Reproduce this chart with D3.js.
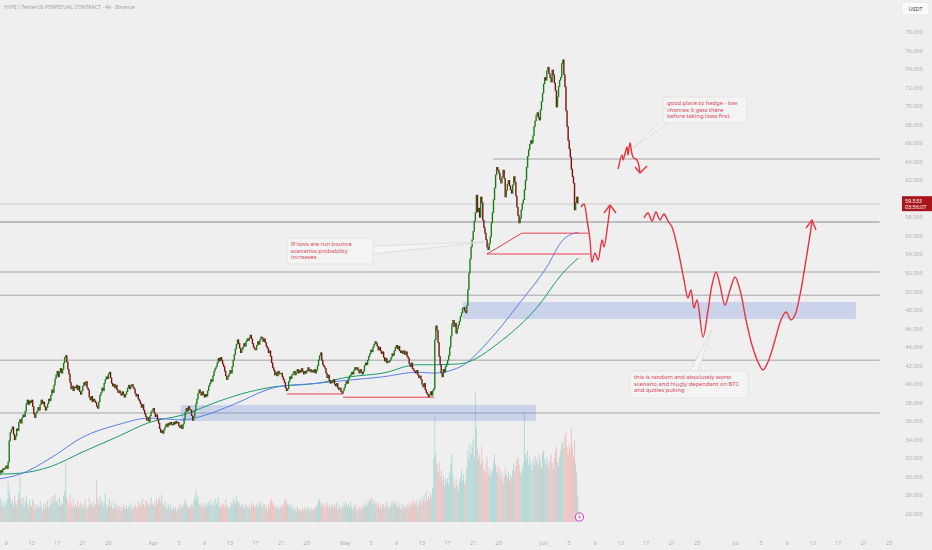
<!DOCTYPE html>
<html>
<head>
<meta charset="utf-8">
<script src="https://cdn.jsdelivr.net/npm/d3@7"></script>
<style>
  body { margin: 0; background: #efefef; }
  svg { display: block; font-family: "Noto Sans", "Open Sans", sans-serif; }
</style>
</head>
<body>
<div id="chart"></div>
<script>
// 4h closes, six per day, starting 8 Mar
const firstOpen = 30.2;
const closesMar = [
  30.4, 30.7, 30.5, 30.9, 30.8, 31.0,
  31.2, 30.9, 31.6, 33.9, 34.8, 35.1,
  35.4, 34.6, 34.0, 34.4, 35.2, 35.0,
  35.9, 36.2, 35.8, 36.4, 36.7, 36.5,
  37.1, 37.9, 38.3, 37.8, 38.2, 38.0,
  38.3, 37.6, 36.8, 36.4, 36.9, 37.1,
  37.5, 37.2, 37.8, 38.3, 37.9, 38.1,
  37.6, 37.2, 37.5, 37.9, 38.4, 38.2,
  38.8, 39.4, 39.1, 39.9, 40.6, 41.0,
  41.4, 40.8, 41.3, 41.7, 41.2, 41.6,
  42.3, 42.9, 43.1, 42.4, 41.6, 41.1,
  40.2, 39.5, 39.8, 39.3, 39.7, 39.6,
  39.9, 39.4, 39.8, 39.2, 38.9, 39.3,
  39.8, 40.2, 39.9, 40.3, 39.6, 39.4,
  38.6, 38.3, 38.7, 38.1, 38.4, 38.2,
  38.0, 37.6, 37.4, 38.1, 38.8, 39.1,
  39.6, 39.3, 40.1, 40.5, 40.8, 40.6,
  41.1, 41.3, 40.7, 40.1, 39.8, 40.0,
  39.6, 39.9, 39.4, 39.1, 39.3, 39.0,
  38.8, 39.2, 38.9, 38.6, 38.9, 39.2,
  39.6, 39.9, 39.5, 39.8, 40.0, 39.7,
  39.5, 39.0, 38.7, 38.9, 38.4, 38.2,
  37.9, 37.5, 37.8, 37.2, 36.8, 36.5,
  36.1, 36.4, 36.0, 36.6, 37.0, 37.2
];
const closesApr = [
  37.4, 36.9, 36.5, 36.7, 36.2, 35.8,
  35.2, 34.8, 35.0, 34.7, 35.1, 35.4,
  35.7, 35.4, 35.8, 35.6, 35.9, 35.7,
  35.6, 35.9, 35.7, 36.0, 35.8, 35.9,
  35.5, 35.3, 35.6, 35.2, 35.7, 36.3,
  37.0, 37.4, 37.1, 37.6, 37.3, 37.2,
  36.6, 36.1, 36.5, 37.2, 37.9, 38.4,
  39.0, 39.4, 39.1, 38.8, 39.2, 38.9,
  38.6, 38.9, 38.7, 39.3, 39.8, 40.1,
  40.5, 40.3, 40.9, 41.4, 41.7, 41.9,
  42.3, 42.8, 42.5, 42.9, 42.6, 42.2,
  41.9, 41.4, 40.9, 40.5, 40.8, 41.1,
  41.5, 41.2, 41.9, 42.6, 43.2, 43.8,
  44.3, 44.8, 44.4, 43.9, 43.4, 43.7,
  44.0, 44.4, 44.1, 44.6, 44.9, 44.7,
  45.0, 45.3, 44.9, 44.4, 44.0, 43.8,
  43.7, 44.2, 44.6, 44.3, 44.8, 45.1,
  45.0, 44.6, 44.9, 44.5, 44.1, 43.9,
  43.4, 43.6, 43.0, 42.3, 41.8, 41.5,
  41.0, 41.3, 40.9, 41.4, 41.1, 41.2,
  41.2, 40.8, 40.5, 40.2, 39.6, 39.3,
  39.5, 40.3, 40.8, 40.6, 41.0, 41.2,
  41.4, 41.0, 41.3, 41.6, 41.2, 41.5,
  41.3, 41.7, 41.4, 41.1, 41.4, 41.2,
  41.5, 41.8, 41.4, 41.6, 41.3, 41.5,
  41.3, 41.6, 41.2, 41.5, 42.0, 42.6,
  43.1, 43.4, 42.6, 42.1, 41.9, 41.7,
  41.2, 40.7, 41.0, 40.4, 40.1, 40.3,
  40.2, 40.5, 40.0, 39.8, 40.1, 39.6,
  39.4, 39.6, 39.2, 39.0, 39.3, 39.6
];
const closesMay = [
  40.0, 40.3, 40.1, 40.6, 40.9, 41.0,
  41.3, 41.1, 41.5, 41.8, 41.6, 41.8,
  41.5, 41.2, 41.6, 41.3, 41.1, 41.4,
  42.0, 42.3, 42.1, 42.6, 43.0, 43.3,
  43.7, 43.5, 44.0, 44.3, 44.6, 44.4,
  44.1, 43.7, 44.0, 43.6, 43.3, 43.5,
  42.9, 42.5, 42.8, 42.3, 42.5, 42.4,
  42.6, 42.9, 43.3, 43.1, 43.6, 44.0,
  44.2, 43.8, 44.1, 43.6, 43.4, 43.6,
  43.3, 43.6, 43.2, 43.5, 43.0, 42.8,
  42.2, 41.9, 42.3, 41.7, 41.5, 41.4,
  41.2, 41.5, 41.0, 40.7, 40.9, 40.5,
  40.0, 39.7, 40.1, 39.4, 39.1, 38.9,
  38.6, 38.9, 39.2, 38.8, 39.3, 39.5,
  44.8, 46.3, 45.8, 44.5, 43.0, 42.1,
  41.2, 40.8, 41.6, 41.3, 41.9, 42.2,
  42.6, 43.1, 44.0, 45.2, 46.5, 46.9,
  46.2, 46.6, 45.5, 46.0, 46.4, 46.8,
  47.3, 47.7, 48.2, 48.3, 47.9, 47.7,
  48.5, 50.2, 52.0, 53.5, 54.8, 55.6,
  56.5, 57.6, 58.5, 60.4, 58.6, 59.0,
  58.0, 60.2, 59.6, 57.7, 56.9, 56.3,
  55.6, 54.8, 54.5, 55.2, 55.9, 57.4,
  58.5, 59.9, 61.2, 62.6, 63.4, 63.1,
  62.8, 62.1, 61.7, 62.4, 63.1, 62.2,
  60.2, 60.9, 61.6, 62.0, 61.4, 61.0,
  60.6, 61.5, 62.4, 61.8, 60.3, 59.1,
  58.2, 57.4, 57.9, 58.8, 59.5, 59.9,
  61.0, 62.0, 63.4, 64.6, 65.3, 65.9,
  66.3, 66.0, 66.8, 67.8, 68.4, 69.0,
  69.3, 68.8, 68.5, 69.6, 70.5, 71.4
];
const closesJun = [
  72.4, 73.1, 72.8, 73.8, 74.2, 73.5,
  73.1, 72.6, 73.9, 73.4, 72.5, 71.7,
  69.9, 71.0, 72.1, 72.8, 73.1, 74.6,
  75.0, 73.4, 72.1, 69.5, 67.8, 66.3,
  65.4, 64.5, 63.2, 62.4, 61.7, 58.8,
  59.6, 60.2, 59.533
];

// volume per 4h bar (relative units), same grouping
const volMar = [
  14, 18, 12, 16, 11, 15,  13, 17, 31, 24, 19, 14,  16, 12, 20, 15, 13, 17,
  22, 35, 18, 14, 19, 12,  16, 21, 14, 11, 17, 13,  12, 18, 15, 10, 14, 11,
  13, 11, 16, 12, 9, 14,   10, 15, 12, 17, 11, 13,  18, 14, 20, 16, 22, 15,
  17, 13, 19, 12, 15, 14,  20, 24, 46, 19, 16, 13,  21, 15, 12, 18, 11, 14,
  12, 16, 10, 13, 15, 11,  14, 11, 17, 13, 10, 12,  19, 13, 15, 11, 16, 12,
  14, 32, 18, 13, 20, 15,  17, 12, 15, 22, 14, 11,  13, 18, 12, 15, 10, 16,
  11, 14, 10, 13, 12, 9,   12, 9, 14, 11, 10, 13,   10, 13, 11, 15, 9, 12,
  11, 14, 12, 10, 16, 13,  15, 12, 18, 14, 11, 16,  17, 13, 15, 12, 19, 14
];
const volApr = [
  13, 16, 12, 18, 14, 17,  19, 15, 21, 14, 12, 16,  12, 10, 14, 11, 13, 9,
  10, 12, 9, 11, 8, 10,    11, 14, 10, 13, 12, 15,  18, 14, 11, 13, 10, 12,
  14, 12, 16, 19, 25, 17,  20, 14, 12, 15, 11, 13,  12, 15, 11, 14, 16, 13,
  17, 13, 15, 12, 18, 14,  15, 19, 13, 11, 14, 12,  14, 11, 17, 13, 12, 10,
  12, 15, 13, 18, 16, 14,  20, 16, 13, 15, 12, 14,  11, 13, 10, 14, 12, 11,
  13, 10, 15, 12, 14, 11,  12, 14, 11, 16, 13, 15,  10, 12, 14, 11, 13, 9,
  14, 11, 16, 18, 15, 13,  12, 10, 13, 11, 9, 12,   11, 14, 12, 16, 18, 13,
  15, 12, 14, 10, 13, 11,  9, 11, 8, 12, 10, 9,     10, 8, 11, 9, 12, 10,
  9, 12, 10, 8, 11, 9,     10, 9, 12, 11, 14, 16,   18, 13, 15, 12, 14, 11,
  12, 15, 11, 13, 10, 14,  13, 11, 14, 12, 15, 10,  14, 12, 10, 13, 11, 15
];
const volMay = [
  13, 15, 12, 14, 11, 16,  12, 10, 13, 11, 14, 9,   10, 12, 9, 11, 13, 10,
  14, 12, 16, 13, 15, 18,  16, 19, 14, 17, 13, 15,  12, 15, 11, 14, 10, 13,
  14, 11, 13, 16, 12, 10,  12, 15, 13, 17, 14, 16,  13, 11, 15, 12, 10, 14,
  11, 13, 10, 12, 14, 11,  15, 12, 14, 17, 13, 16,  14, 17, 12, 15, 18, 13,
  19, 16, 21, 15, 24, 18,  20, 17, 22, 19, 26, 49,  81, 52, 44, 38, 46, 35,
  40, 32, 36, 28, 33, 30,  34, 29, 38, 45, 52, 36,  30, 26, 33, 28, 24, 31,
  35, 40, 32, 37, 29, 33,  42, 55, 48, 60, 52, 58,  64, 50, 100, 72, 56, 48,
  52, 44, 58, 47, 41, 38,  45, 50, 37, 42, 35, 39,  40, 46, 52, 44, 38, 43,
  36, 41, 33, 38, 30, 35,  42, 37, 34, 39, 31, 36,  34, 40, 45, 38, 43, 48,
  50, 44, 39, 36, 41, 46,  85, 52, 48, 55, 44, 50,  45, 40, 48, 43, 51, 46,
  49, 44, 52, 47, 41, 53
];
const volJun = [
  55, 48, 44, 50, 46, 42,  47, 52, 45, 41, 49, 54,  58, 46, 43, 50, 55, 60,
  62, 57, 66, 70, 58, 52,  60, 55, 72, 58, 50, 63,  45, 38, 20
];

// moving averages: [days since 8 Mar, price]
const maBlue = [
  [0, 29.8], [3.2, 30.3], [7.9, 32.0], [13, 34.3], [18.3, 35.6], [23.5, 36.35],
  [28.7, 36.15], [31.3, 36.5], [36.5, 37.8], [41.8, 39.4], [43.3, 39.7],
  [49.6, 40.1], [54.75, 40.45], [59.9, 40.8], [65.2, 41.3], [67.7, 41.2],
  [71.9, 41.85], [76.6, 44.8], [81.3, 48.8], [85.5, 52.65], [88, 55.55], [90.4, 56.4]
];
const maGreen = [
  [0, 30.3], [3.2, 30.4], [7.9, 31.1], [13, 32.7], [18.3, 34.3], [23.5, 35.9],
  [28.7, 36.7], [34, 38.1], [39.1, 39.2], [42.7, 39.7], [49.6, 40.1],
  [54.75, 40.8], [59.9, 41.2], [65.2, 42.1], [67.7, 42.1], [71.9, 42.2],
  [78.6, 44.8], [84, 48.3], [88, 52.0], [90.4, 53.6]
];

// drawn horizontal levels: price, start day
const levelPrices = [64.3, 59.44, 57.5, 52.1, 49.6, 42.6, 36.9];
const levelStarts = [77.1, 0, 0, 0, 0, 0, 0];
const levelEnd = 137.5;

// zones: [startDay, endDay, top price, bottom price]
const zones = [[72.4, 133.8, 48.87, 47.04], [28.3, 83.8, 37.76, 36.03]];

// red support lines and trap box: [day, price] pairs
const lowLines = [
  [[44.9, 38.95], [53.66, 38.95]],
  [[53.66, 38.6], [67.88, 38.6]],
  [[81.6, 56.3], [91.94, 56.3]],
  [[76.16, 54.05], [92.25, 54.05]],
  [[76.16, 54.05], [81.6, 56.3]]
];

// projected paths
const pathBounce = [
  [90.84, 59.12], [91.31, 59.44], [91.78, 57.72], [92.25, 55.56], [92.56, 53.19],
  [93.03, 54.16], [93.5, 53.4], [94.13, 55.56], [94.44, 54.8], [94.91, 56.64], [95.38, 59.23]
];
const headBounce = [[94.44, 58.47], [95.38, 59.34], [96.31, 58.47]];
const pathHedge = [
  [96.63, 63.22], [97.25, 64.73], [97.41, 64.19], [98.03, 65.59], [98.19, 64.73],
  [98.5, 66.02], [98.97, 64.51], [99.59, 64.19], [100.06, 62.9]
];
const headHedge = [[99.28, 63.43], [100.06, 62.79], [101.16, 63.54]];
const pathWorst = [
  [100.69, 57.93], [101.31, 58.47], [101.94, 57.61], [102.56, 58.58], [103.19, 57.72],
  [103.81, 58.36], [104.44, 57.61], [105.06, 56.96], [106.0, 54.48], [106.94, 51.24],
  [107.56, 49.3], [108.03, 50.17], [108.5, 48.22], [108.97, 49.09], [109.91, 45.1],
  [110.69, 48.0], [111.31, 50.7], [111.94, 52.1], [112.56, 50.7], [113.34, 48.55],
  [114.13, 50.17], [114.91, 51.57], [115.69, 50.17], [116.63, 46.93], [117.56, 44.23],
  [118.5, 42.4], [119.28, 41.54], [120.06, 42.4], [121.16, 44.77], [122.09, 46.93],
  [122.88, 47.79], [123.66, 46.93], [124.28, 47.47], [125.06, 49.63], [126.0, 53.4],
  [126.94, 57.5]
];
const headWorst = [[126.0, 56.85], [126.94, 57.72], [127.56, 56.64]];

// text notes: box top-left anchor [day, price] and the point they refer to
const noteTexts = [
  ["good place to hedge - low", "chances it gets there", "before taking lows first"],
  ["If lows are run bounce", "scenarios probability", "increases"],
  ["this is random and absolutely worst", "scenario and hiugly dependant on BTC", "and quities puking"]
];
const noteAnchors = [[103.66, 70.99], [44.91, 55.78], [98.5, 41.43]];
const noteTips = [[98.97, 65.48], [75.69, 55.34], [111.31, 45.85]];

const xTickDates = [
  "03-09", "03-13", "03-17", "03-21", "03-25",
  "04-01", "04-05", "04-09", "04-13", "04-17", "04-21", "04-25",
  "05-01", "05-05", "05-09", "05-13", "05-17", "05-21", "05-25",
  "06-01", "06-05", "06-09", "06-13", "06-17", "06-21", "06-25",
  "07-01", "07-05", "07-09", "07-13", "07-17", "07-21", "07-25"
];
const lastPrice = 59.533;
const countdown = "03:56:07";

const width = 932, height = 550;
const startTime = Date.UTC(2025, 2, 8);
const barMs = 4 * 3600 * 1000;
const dayDate = (d) => new Date(startTime + d * 864e5);

const closes = closesMar.concat(closesApr, closesMay, closesJun);
const volumes = volMar.concat(volApr, volMay, volJun);
const bars = closes.map((c, i) => ({
  t: new Date(startTime + i * barMs),
  o: i === 0 ? firstOpen : closes[i - 1],
  c: c,
  v: volumes[i]
}));

const x = d3.scaleUtc()
  .domain([new Date(Date.UTC(2025, 2, 9)), new Date(Date.UTC(2025, 6, 25))])
  .range([6, 889.2]);
const y = d3.scaleLinear().domain([26, 78]).range([514, 32]);
const yVol = d3.scaleLinear().domain([0, 100]).range([522, 392]);

const px = (p) => [x(dayDate(p[0])), y(p[1])];

const svg = d3.select("#chart").append("svg")
  .attr("width", width)
  .attr("height", height);

svg.append("rect").attr("width", width).attr("height", height).attr("fill", "#efefef");

// title
svg.append("text")
  .attr("x", 4).attr("y", 9)
  .attr("font-size", 5.2).attr("fill", "#a0a0a0")
  .text("HYPE / TetherUS PERPETUAL CONTRACT · 4h · Binance");

// horizontal levels
svg.append("g").selectAll("line")
  .data(levelPrices)
  .join("line")
  .attr("x1", (d, i) => x(dayDate(levelStarts[i])))
  .attr("x2", x(dayDate(levelEnd)))
  .attr("y1", (d) => y(d))
  .attr("y2", (d) => y(d))
  .attr("stroke", (d, i) => (i === 1 ? "#cfcfcf" : "#bdbdbd"))
  .attr("stroke-width", (d, i) => (i === 1 ? 1 : i === 2 ? 2 : 1.5));

// zones
svg.append("g").selectAll("rect")
  .data(zones)
  .join("rect")
  .attr("x", (d) => x(dayDate(d[0])))
  .attr("width", (d) => x(dayDate(d[1])) - x(dayDate(d[0])))
  .attr("y", (d) => y(d[2]))
  .attr("height", (d) => y(d[3]) - y(d[2]))
  .attr("fill", "rgba(110,140,225,0.28)");

// volume
svg.append("g").selectAll("rect")
  .data(bars)
  .join("rect")
  .attr("x", (d) => x(d.t) - 0.45)
  .attr("width", 0.9)
  .attr("y", (d) => yVol(d.v))
  .attr("height", (d) => yVol(0) - yVol(d.v))
  .attr("fill", (d) => (d.c >= d.o ? "rgba(38,166,154,0.32)" : "rgba(239,83,80,0.3)"));

// moving averages
const maLine = d3.line().x((d) => px(d)[0]).y((d) => px(d)[1]).curve(d3.curveMonotoneX);
svg.append("path").attr("d", maLine(maGreen))
  .attr("fill", "none").attr("stroke", "#1a9a6c").attr("stroke-width", 1);
svg.append("path").attr("d", maLine(maBlue))
  .attr("fill", "none").attr("stroke", "#5a7ef0").attr("stroke-width", 1);

// candles
svg.append("g").selectAll("rect")
  .data(bars)
  .join("rect")
  .attr("x", (d) => x(d.t) - 0.7)
  .attr("width", 1.4)
  .attr("y", (d) => y(Math.max(d.o, d.c)) - 0.3)
  .attr("height", (d) => Math.max(1.2, Math.abs(y(d.o) - y(d.c)) + 0.6))
  .attr("fill", (d) => (d.c >= d.o ? "#1c7c1c" : "#7a1212"));

// red lines at the lows and the trap box
svg.append("g").selectAll("line")
  .data(lowLines)
  .join("line")
  .attr("x1", (d) => px(d[0])[0]).attr("y1", (d) => px(d[0])[1])
  .attr("x2", (d) => px(d[1])[0]).attr("y2", (d) => px(d[1])[1])
  .attr("stroke", "#e8404a").attr("stroke-width", 1);

// projections
const draw = d3.line().x((d) => px(d)[0]).y((d) => px(d)[1]);
const smooth = d3.line().x((d) => px(d)[0]).y((d) => px(d)[1]).curve(d3.curveCatmullRom.alpha(0.5));
[pathBounce, pathHedge, pathWorst].forEach((p) => {
  svg.append("path").attr("d", smooth(p))
    .attr("fill", "none").attr("stroke", "#e8333f").attr("stroke-width", 1.4)
    .attr("stroke-linejoin", "round");
});
[headBounce, headHedge, headWorst].forEach((p) => {
  svg.append("path").attr("d", draw(p))
    .attr("fill", "none").attr("stroke", "#e8333f").attr("stroke-width", 1.4)
    .attr("stroke-linejoin", "round");
});

// notes
const noteSizes = [[84, 26], [86, 26], [118, 27]];
const noteBase = [[[-3, 26], [5, 26]], [[86, 8], [86, 16]], [[60, 0], [68, 0]]];
noteTexts.forEach((lines, i) => {
  const [bx, by] = px(noteAnchors[i]);
  const [tx, ty] = px(noteTips[i]);
  const [w, h] = noteSizes[i];
  const g = svg.append("g");
  g.append("path")
    .attr("d", `M${bx + noteBase[i][0][0]},${by + noteBase[i][0][1]}L${tx},${ty}L${bx + noteBase[i][1][0]},${by + noteBase[i][1][1]}`)
    .attr("fill", "#f4f4f4").attr("stroke", "#d6d6d6").attr("stroke-width", 0.7);
  g.append("rect")
    .attr("x", bx).attr("y", by).attr("width", w).attr("height", h)
    .attr("rx", 3)
    .attr("fill", "#f4f4f4").attr("stroke", "#dedede").attr("stroke-width", 0.7);
  g.selectAll("text")
    .data(lines)
    .join("text")
    .attr("x", bx + 4)
    .attr("y", (d, j) => by + 8 + j * 6.6)
    .attr("font-size", 5.8)
    .attr("fill", "#e0465a")
    .text((d) => d);
});

// event marker
const ev = svg.append("g").attr("transform", `translate(${x(dayDate(90.6))},517)`);
ev.append("circle").attr("r", 4.2).attr("fill", "#f6eef7").attr("stroke", "#c23fc8").attr("stroke-width", 1);
ev.append("path").attr("d", "M0.6,-2.6L-1.4,0.4L0.2,0.4L-0.6,2.6L1.4,-0.4L-0.2,-0.4Z").attr("fill", "#c23fc8");

// y axis labels (the one under the last price tag is hidden, as on the chart)
svg.append("g").selectAll("text")
  .data(d3.range(26, 79, 2).filter((d) => Math.abs(y(d) - y(lastPrice)) > 9))
  .join("text")
  .attr("x", 914)
  .attr("y", (d) => y(d) + 2)
  .attr("text-anchor", "middle")
  .attr("font-size", 5.6)
  .attr("fill", "#b0b0b0")
  .text((d) => d3.format(".3f")(d));

// x axis labels
const monthNames = ["Jan", "Feb", "Mar", "Apr", "May", "Jun", "Jul", "Aug"];
svg.append("g").selectAll("text")
  .data(xTickDates)
  .join("text")
  .attr("x", (d) => x(new Date("2025-" + d + "T00:00:00Z")))
  .attr("y", 545)
  .attr("text-anchor", "middle")
  .attr("font-size", 5.6)
  .attr("fill", "#b0b0b0")
  .text((d) => {
    const dt = new Date("2025-" + d + "T00:00:00Z");
    return dt.getUTCDate() === 1 ? monthNames[dt.getUTCMonth()] : dt.getUTCDate();
  });

// currency tag
svg.append("rect").attr("x", 903).attr("y", 3).attr("width", 25).attr("height", 11)
  .attr("rx", 1.5).attr("fill", "#ffffff");
svg.append("text").attr("x", 915.5).attr("y", 10.5).attr("text-anchor", "middle")
  .attr("font-size", 5.6).attr("fill", "#333").text("USDT");

// last price tag
const ly = y(lastPrice);
svg.append("rect").attr("x", 902).attr("y", ly - 7).attr("width", 30).attr("height", 15)
  .attr("fill", "#a8161b");
svg.append("text").attr("x", 905).attr("y", ly - 0.5)
  .attr("font-size", 5.4).attr("fill", "#fff").text(d3.format(".3f")(lastPrice));
svg.append("text").attr("x", 905).attr("y", ly + 6)
  .attr("font-size", 5.4).attr("fill", "#fff").text(countdown);
</script>
</body>
</html>
